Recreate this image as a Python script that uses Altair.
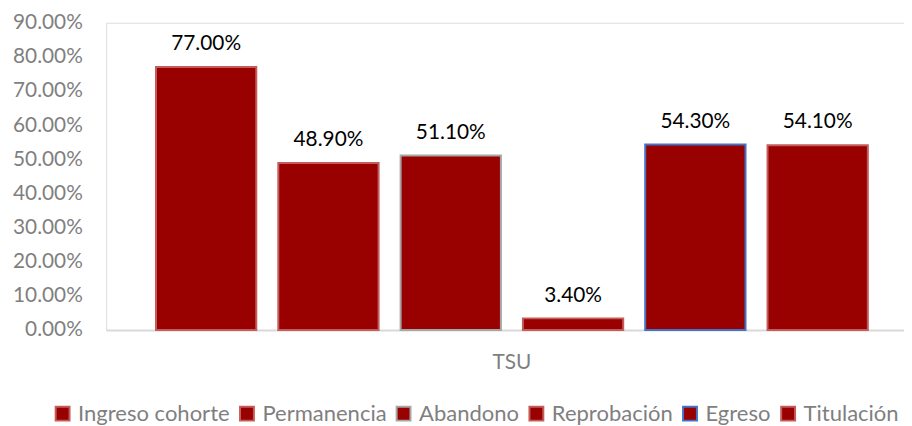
import altair as alt
import pandas as pd

categorias = ["TSU", "TSU", "TSU", "TSU", "TSU", "TSU"]
series = ["Ingreso cohorte", "Permanencia", "Abandono", "Reprobación", "Egreso", "Titulación"]
valores = [0.77, 0.489, 0.511, 0.034, 0.543, 0.541]
rellenos = ["#990000", "#990000", "#990000", "#990000", "#990000", "#990000"]
bordes = ["#c45c5c", "#c45c5c", "#a6a6a6", "#c45c5c", "#4472c4", "#c45c5c"]

df = pd.DataFrame({"categoria": categorias, "serie": series, "valor": valores})

FONT = "Lato"
GRIS = "#7f7f7f"

leyenda = alt.Legend(
    orient="none", legendX=-55, legendY=383, direction="horizontal", title=None,
    symbolType="square", symbolSize=196, symbolStrokeWidth=2,
    labelFontSize=22.2, labelColor=GRIS, labelFont=FONT,
    columnPadding=6, labelOffset=4.5,
)

base = alt.Chart(df).encode(
    x=alt.X("categoria:N", title=None,
            scale=alt.Scale(paddingInner=0, paddingOuter=0.04363, align=0.607),
            axis=alt.Axis(labelAngle=0, labelFontSize=21, labelColor=GRIS, labelFont=FONT,
                          ticks=False, labelPadding=22, domainColor="#d9d9d9", domainWidth=2,
                          grid=False)),
    xOffset=alt.XOffset("serie:N", sort=series,
                        scale=alt.Scale(paddingInner=0.18, paddingOuter=0.09)),
    y=alt.Y("valor:Q", title=None,
            scale=alt.Scale(domain=[0, 0.9], nice=False),
            axis=alt.Axis(format=".2%", values=[i / 10 for i in range(10)],
                          labelFontSize=21, labelColor=GRIS, labelFont=FONT,
                          domain=False, ticks=False, grid=False, labelPadding=24)),
)

barras = base.mark_bar(strokeWidth=2).encode(
    color=alt.Color("serie:N", sort=series, scale=alt.Scale(domain=series, range=rellenos), legend=leyenda),
    stroke=alt.Stroke("serie:N", sort=series, scale=alt.Scale(domain=series, range=bordes), legend=leyenda),
)

etiquetas = base.mark_text(dy=-17, baseline="alphabetic", fontSize=21, font=FONT, color="#000000").encode(
    text=alt.Text("valor:Q", format=".2%"),
)

chart = alt.layer(barras, etiquetas).properties(
    width=805, height=310,
    autosize=alt.AutoSizeParams(type="none"),
    padding={"left": 99, "top": 13, "right": 0, "bottom": 95},
).configure_view(stroke=None).configure(font=FONT)

chart.save("out.html", embed_options={"renderer": "svg", "actions": False})
